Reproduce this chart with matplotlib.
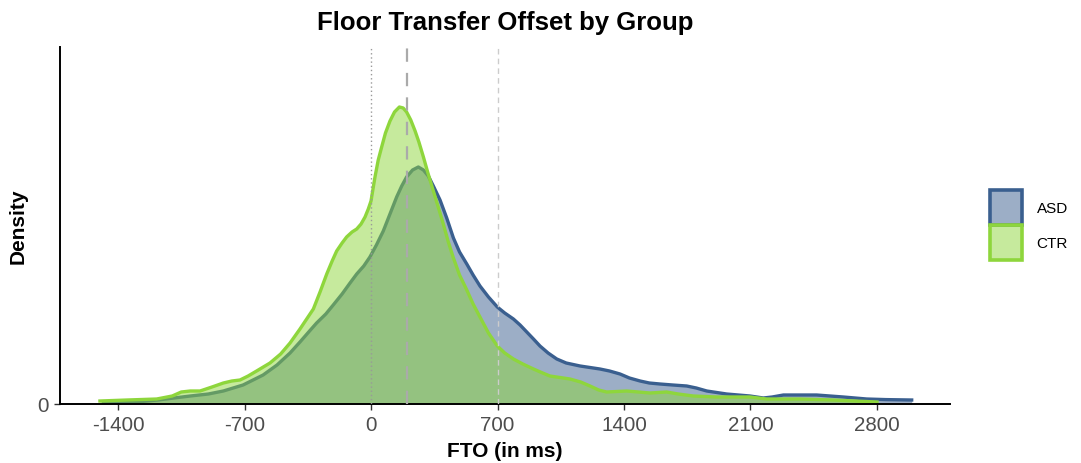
import matplotlib
matplotlib.use("Agg")
import matplotlib.pyplot as plt
from matplotlib.patches import Patch
import numpy as np

plt.rcParams['font.family'] = ['Liberation Sans', 'DejaVu Sans']

# density curves (density in units of 1e-4 per ms)
asd_x = [-1480, -1300, -1180, -1000, -900, -817, -708, -597, -520, -448, -393, -340, -301, -250,
         -209, -160, -116, -79, -40, -6, 30, 68, 105, 142, 170, 197, 230, 262, 290, 317, 345,
         382, 419, 456, 490, 530, 565, 603, 650, 699, 740, 788, 825, 862, 899, 935, 980, 1028,
         1080, 1157, 1267, 1320, 1378, 1430, 1489, 1540, 1599, 1670, 1747, 1800, 1858, 1968,
         2097, 2171, 2220, 2282, 2466, 2540, 2614, 2743, 2850, 2992]
asd_d = [0.05, 0.10, 0.20, 0.40, 0.50, 0.65, 0.95, 1.45, 1.95, 2.55, 3.10, 3.65, 4.05, 4.50,
         4.95, 5.50, 6.05, 6.50, 6.90, 7.35, 7.95, 8.65, 9.50, 10.35, 10.90, 11.35, 11.70, 11.85, 11.70, 11.40, 10.90,
         10.20, 9.30, 8.30, 7.60, 7.00, 6.45, 5.90, 5.35, 4.85, 4.55, 4.25, 3.95, 3.60, 3.25, 2.90, 2.55, 2.25,
         2.05, 1.90, 1.75, 1.65, 1.50, 1.30, 1.15, 1.05, 1.00, 0.95, 0.90, 0.80, 0.65, 0.50,
         0.40, 0.30, 0.35, 0.45, 0.45, 0.40, 0.35, 0.25, 0.22, 0.20]

ctr_x = [-1500, -1350, -1186, -1100, -1050, -1000, -946, -880, -817, -770, -725, -680, -633, -559,
         -500, -448, -393, -319, -282, -245, -215, -190, -160, -135, -105, -79, -55, -33, -15, 0,
         22, 40, 59, 80, 105, 130, 157, 178, 197, 220, 244, 265, 290, 315, 345, 372, 400, 428,
         456, 490, 530, 565, 603, 650, 699, 740, 788, 840, 899, 950, 990, 1101, 1160, 1212,
         1260, 1304, 1415, 1480, 1544, 1636, 1700, 1784, 1913, 2097, 2190, 2374, 2557, 2800]
ctr_d = [0.15, 0.20, 0.25, 0.40, 0.60, 0.65, 0.65, 0.85, 1.05, 1.15, 1.20, 1.40, 1.65, 2.05,
         2.50, 3.05, 3.75, 4.75, 5.60, 6.50, 7.15, 7.65, 8.05, 8.35, 8.60, 8.75, 9.00, 9.35, 9.75, 10.15,
         11.35, 12.20, 12.85, 13.55, 14.15, 14.60, 14.85, 14.80, 14.60, 14.20, 13.65, 13.10, 12.35, 11.55, 10.65, 9.85, 9.00, 8.10,
         7.30, 6.45, 5.70, 5.00, 4.35, 3.55, 2.90, 2.55, 2.25, 2.00, 1.75, 1.55, 1.40, 1.25, 1.10, 0.90,
         0.70, 0.60, 0.65, 0.60, 0.55, 0.60, 0.50, 0.40, 0.35, 0.35, 0.25, 0.25, 0.20, 0.10]

groups = ['ASD', 'CTR']
line_cols = ['#3a5f8f', '#8ed63c']
vlines = [0, 200, 700]
xticks = [-1400, -700, 0, 700, 1400, 2100, 2800]

fig = plt.figure(figsize=(10.81, 4.64), dpi=100)
ax = fig.add_axes([60/1081, 1 - 405/464, 890/1081, 357/464])

# each group: fill then outline, so the CTR fill sits over the ASD outline
series = [(asd_x, asd_d), (ctr_x, ctr_d)]
z = 1.0
for (xs, ds), col in zip(series, line_cols):
    xs = np.array(xs)
    ds = np.array(ds) * 1e-4
    ax.fill_between(xs, 0, ds, color=col, alpha=0.5, lw=0, zorder=z)
    ax.plot(xs, ds, color=col, lw=2.4, solid_joinstyle='round', zorder=z + 0.1)
    z += 0.2

ax.axvline(vlines[0], color='#999999', lw=1.0, ls=(0, (1, 2)), zorder=5)
ax.axvline(vlines[1], color='#aaaaaa', lw=1.6, ls=(0, (6, 5)), zorder=5)
ax.axvline(vlines[2], color='#cccccc', lw=1.0, ls=(0, (4, 3)), zorder=5)

ax.set_xlim(-1721, 3204)
ax.set_ylim(0, 17.85e-4)
ax.set_xticks(xticks)
ax.set_xticklabels([str(t) for t in xticks])
ax.set_yticks([0])
ax.set_yticklabels(['0'])

for s in ['top', 'right']:
    ax.spines[s].set_visible(False)
for s in ['left', 'bottom']:
    ax.spines[s].set_linewidth(1.4)
    ax.spines[s].set_color('black')
ax.tick_params(axis='both', length=4.5, width=1.0, color='#333333',
               labelcolor='#4d4d4d', labelsize=14.8, pad=3.5)

ax.set_xlabel('FTO (in ms)', fontsize=15, fontweight='bold', labelpad=5)
ax.set_ylabel('Density', fontsize=15, fontweight='bold', labelpad=7)
ax.set_title('Floor Transfer Offset by Group', fontsize=18.5, fontweight='bold', pad=13)

handles = []
for col in line_cols:
    rgb = matplotlib.colors.to_rgb(col)
    handles.append(Patch(facecolor=(*rgb, 0.5), edgecolor=col, lw=2.6))
fig.legend(handles, groups, loc='center left', bbox_to_anchor=(990/1081, 1 - 226/464),
           frameon=False, fontsize=11, handlelength=2.1, handleheight=3.1,
           labelspacing=0.0, handletextpad=0.95, borderpad=0, borderaxespad=0)

fig.savefig('out.png', dpi=100)
